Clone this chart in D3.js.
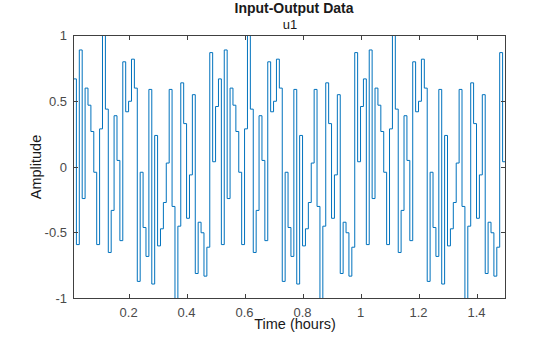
<!DOCTYPE html>
<html>
<head>
<meta charset="utf-8">
<script src="https://cdn.jsdelivr.net/npm/d3@7"></script>
<style>
  body { margin: 0; background: #fff; }
  text { font-family: "Liberation Sans", Arial, sans-serif; }
</style>
</head>
<body>
<svg width="560" height="337"></svg>
<script>
// sample time in hours, first sample at 0.01
var sampleTime = 0.01;

// u1 amplitude, one value per sample (signal repeats every 50 samples)
var u1 = [
  0.67, -0.59, 0.89, -0.24, 0.60, 0.47, 0.27, -0.04, -0.59, 0.29,
  1.00, 0.44, -0.65, -0.33, 0.39, 0.05, -0.56, 0.80, 0.42, 0.50,
  0.82, 0.60, -0.87, -0.04, -0.46, -0.68, 0.59, -0.89, 0.24, -0.60,
  -0.47, -0.27, 0.03, 0.59, -0.30, -1.00, -0.45, 0.64, 0.33, -0.39,
  -0.06, 0.55, -0.81, -0.42, -0.50, -0.83, -0.61, 0.87, 0.04, 0.46,
  0.67, -0.59, 0.89, -0.24, 0.60, 0.47, 0.27, -0.04, -0.59, 0.29,
  1.00, 0.44, -0.65, -0.33, 0.39, 0.05, -0.56, 0.80, 0.42, 0.50,
  0.82, 0.60, -0.87, -0.04, -0.46, -0.68, 0.59, -0.89, 0.24, -0.60,
  -0.47, -0.27, 0.03, 0.59, -0.30, -1.00, -0.45, 0.64, 0.33, -0.39,
  -0.06, 0.55, -0.81, -0.42, -0.50, -0.83, -0.61, 0.87, 0.04, 0.46,
  0.67, -0.59, 0.89, -0.24, 0.60, 0.47, 0.27, -0.04, -0.59, 0.29,
  1.00, 0.44, -0.65, -0.33, 0.39, 0.05, -0.56, 0.80, 0.42, 0.50,
  0.82, 0.60, -0.87, -0.04, -0.46, -0.68, 0.59, -0.89, 0.24, -0.60,
  -0.47, -0.27, 0.03, 0.59, -0.30, -1.00, -0.45, 0.64, 0.33, -0.39,
  -0.06, 0.55, -0.81, -0.42, -0.50, -0.83, -0.61, 0.87, 0.04, 0.46
];

var xTicks = [0.2, 0.4, 0.6, 0.8, 1, 1.2, 1.4];
var yTicks = [-1, -0.5, 0, 0.5, 1];
var xDomain = [0.01, 1.5];
var yDomain = [-1, 1];

var svg = d3.select("svg");
// plot box (note: "top" is a reserved window property, so use box*)
var boxLeft = 73.5, boxRight = 505.5, boxTop = 35.5, boxBottom = 298.5;
var tickLen = 4.5;
var axisColor = "#404040";

var x = d3.scaleLinear().domain(xDomain).range([boxLeft, boxRight]);
var y = d3.scaleLinear().domain(yDomain).range([boxBottom, boxTop]);

// build points (time, value)
var points = u1.map(function(v, i) {
  return { t: (i + 1) * sampleTime, v: v };
});

// stairs line
var line = d3.line()
  .x(function(d) { return x(d.t); })
  .y(function(d) { return y(d.v); })
  .curve(d3.curveStepAfter);

svg.append("path")
  .datum(points)
  .attr("fill", "none")
  .attr("stroke", "#0072BD")
  .attr("stroke-width", 1)
  .attr("d", line);

// box and inward ticks
var axes = svg.append("g").attr("stroke", axisColor).attr("stroke-width", 1).attr("fill", "none");
axes.append("rect")
  .attr("x", boxLeft).attr("y", boxTop)
  .attr("width", boxRight - boxLeft).attr("height", boxBottom - boxTop);

xTicks.forEach(function(t) {
  var px = Math.round(x(t)) + 0.5;
  axes.append("line").attr("x1", px).attr("x2", px).attr("y1", boxBottom).attr("y2", boxBottom - tickLen);
  axes.append("line").attr("x1", px).attr("x2", px).attr("y1", boxTop).attr("y2", boxTop + tickLen);
});
yTicks.forEach(function(t) {
  var py = Math.round(y(t) - 0.5) + 0.5;
  axes.append("line").attr("x1", boxLeft).attr("x2", boxLeft + tickLen).attr("y1", py).attr("y2", py);
  axes.append("line").attr("x1", boxRight).attr("x2", boxRight - tickLen).attr("y1", py).attr("y2", py);
});

// tick labels
svg.selectAll(".xtick")
  .data(xTicks)
  .enter()
  .append("text")
  .attr("class", "xtick")
  .attr("x", function(d) { return x(d); })
  .attr("y", 317)
  .attr("text-anchor", "middle")
  .attr("font-size", 13)
  .attr("fill", "#4a4a4a")
  .text(function(d) { return d; });

svg.selectAll(".ytick")
  .data(yTicks)
  .enter()
  .append("text")
  .attr("class", "ytick")
  .attr("x", 67)
  .attr("y", function(d) { return y(d) + 4.5; })
  .attr("text-anchor", "end")
  .attr("font-size", 13)
  .attr("fill", "#4a4a4a")
  .text(function(d) { return d; });

// labels and titles
svg.append("text")
  .attr("x", 294).attr("y", 13)
  .attr("text-anchor", "middle")
  .attr("font-size", 14)
  .attr("font-weight", "bold")
  .attr("fill", "#1a1a1a")
  .text("Input-Output Data");

svg.append("text")
  .attr("x", 290).attr("y", 29)
  .attr("text-anchor", "middle")
  .attr("font-size", 13)
  .attr("fill", "#1a1a1a")
  .text("u1");

svg.append("text")
  .attr("x", 295).attr("y", 329)
  .attr("text-anchor", "middle")
  .attr("font-size", 14.5)
  .attr("fill", "#1a1a1a")
  .text("Time (hours)");

svg.append("text")
  .attr("transform", "translate(41," + y(0) + ") rotate(-90)")
  .attr("text-anchor", "middle")
  .attr("font-size", 14.5)
  .attr("fill", "#1a1a1a")
  .text("Amplitude");
</script>
</body>
</html>
